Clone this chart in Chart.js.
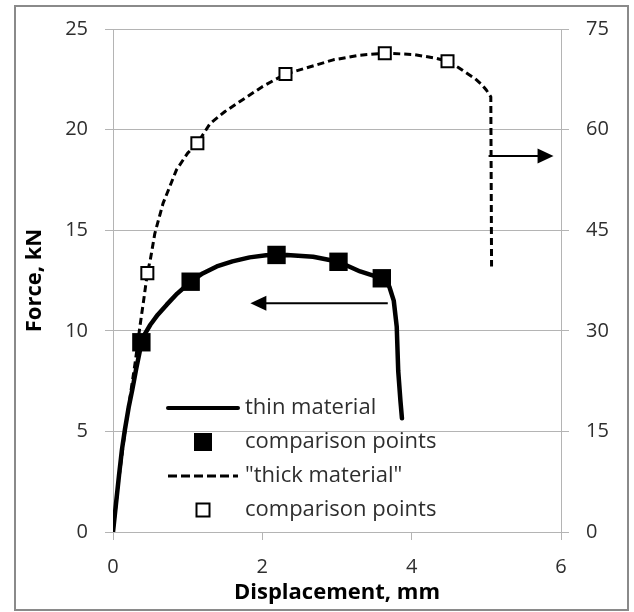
<!DOCTYPE html>
<html>
<head>
<meta charset="utf-8">
<script src="https://cdn.jsdelivr.net/npm/chart.js@4.4.1/dist/chart.umd.min.js"></script>
<style>
  html, body { margin: 0; padding: 0; background: #ffffff; }
  canvas { display: block; }
</style>
</head>
<body>
<canvas id="c" width="634" height="612"></canvas>
<script>
// ---- Data ----
// Thin material curve (left axis, kN)
const thinX = [0, 0.04, 0.08, 0.12, 0.16, 0.21, 0.26, 0.31, 0.36, 0.42, 0.5, 0.6, 0.72, 0.86, 1.04, 1.2, 1.39, 1.6, 1.83, 2.05, 2.33, 2.68, 3.02, 3.31, 3.6, 3.7, 3.76, 3.8, 3.82, 3.85, 3.87];
const thinY = [0, 1.4, 2.8, 4.1, 5.1, 6.2, 7.1, 8.1, 9.0, 9.8, 10.3, 10.8, 11.3, 11.85, 12.44, 12.85, 13.2, 13.45, 13.65, 13.75, 13.77, 13.68, 13.43, 12.95, 12.61, 12.2, 11.5, 10.2, 8.0, 6.5, 5.65];
// Thin comparison points (left axis)
const thinPtsX = [0.38, 1.04, 2.19, 3.02, 3.60];
const thinPtsY = [9.43, 12.44, 13.77, 13.43, 12.61];
// "Thick material" curve (right axis)
const thickX = [0, 0.08, 0.16, 0.24, 0.3, 0.36, 0.41, 0.46, 0.5, 0.56, 0.67, 0.85, 1.0, 1.13, 1.3, 1.5, 1.7, 2.0, 2.31, 2.5, 2.95, 3.31, 3.64, 4.02, 4.3, 4.48, 4.62, 4.74, 4.85, 4.94, 5.0, 5.06, 5.07];
const thickY = [0, 8, 15, 21, 25.5, 30.6, 34.5, 38.6, 40.6, 44.5, 49.0, 54.0, 56.5, 57.96, 60.9, 62.7, 64.2, 66.4, 68.3, 68.9, 70.4, 71.1, 71.4, 71.2, 70.7, 70.2, 69.3, 68.4, 67.6, 66.7, 65.9, 64.9, 39.6];
// Thick comparison points (right axis)
const thickPtsX = [0.46, 1.13, 2.31, 3.64, 4.48];
const thickPtsY = [38.6, 57.96, 68.3, 71.4, 70.2];
// Arrows (data coordinates): [x from, x to, y]
const arrowLeft  = [3.68, 1.84, 11.37];   // left axis
const arrowRight = [5.03, 5.90, 56.06];   // right axis
// Labels
const seriesNames = ['thin material', 'comparison points', '"thick material"', 'comparison points'];
const xTitle = 'Displacement, mm';
const yTitle = 'Force, kN';

const pts = (xs, ys) => xs.map((x, i) => ({ x: x, y: ys[i] }));

const FONT = '"Open Sans"';
const TICK_COLOR = '#2e2e2e';
const GRID = '#b4b4b4';

const arrowPlugin = {
  id: 'arrows',
  afterDatasetsDraw(chart) {
    const ctx = chart.ctx;
    const sx = chart.scales.x;
    const draw = (a, ys) => {
      const x1 = sx.getPixelForValue(a[0]);
      const x2 = sx.getPixelForValue(a[1]);
      const y = ys.getPixelForValue(a[2]);
      const dir = Math.sign(x2 - x1);
      const head = 16, hw = 7.5;
      ctx.save();
      ctx.strokeStyle = '#000';
      ctx.fillStyle = '#000';
      ctx.lineWidth = 2;
      ctx.beginPath();
      ctx.moveTo(x1, y);
      ctx.lineTo(x2 - dir * head * 0.8, y);
      ctx.stroke();
      ctx.beginPath();
      ctx.moveTo(x2, y);
      ctx.lineTo(x2 - dir * head, y - hw);
      ctx.lineTo(x2 - dir * head, y + hw);
      ctx.closePath();
      ctx.fill();
      ctx.restore();
    };
    draw(arrowLeft, chart.scales.y);
    draw(arrowRight, chart.scales.y2);
  }
};

const legendPlugin = {
  id: 'inlegend',
  afterDraw(chart) {
    const ctx = chart.ctx;
    const ca = chart.chartArea;
    const lx1 = ca.left + 55, lx2 = ca.left + 125, tx = ca.left + 132, mx = ca.left + 90;
    const rows = [ca.top + 379, ca.top + 413, ca.top + 447, ca.top + 481];
    ctx.save();
    // row 1: solid line
    ctx.strokeStyle = '#000';
    ctx.lineWidth = 4;
    ctx.lineCap = 'round';
    ctx.beginPath(); ctx.moveTo(lx1, rows[0]); ctx.lineTo(lx2, rows[0]); ctx.stroke();
    // row 2: filled square
    ctx.fillStyle = '#000';
    ctx.fillRect(mx - 9, rows[1] - 9, 18, 18);
    // row 3: dashed
    ctx.lineCap = 'butt';
    ctx.lineWidth = 3;
    ctx.setLineDash([9, 4]);
    ctx.beginPath(); ctx.moveTo(lx1, rows[2]); ctx.lineTo(lx2, rows[2]); ctx.stroke();
    ctx.setLineDash([]);
    // row 4: open square
    ctx.lineWidth = 2;
    ctx.fillStyle = '#fff';
    ctx.fillRect(mx - 6.5, rows[3] - 6.5, 13, 13);
    ctx.strokeRect(mx - 6.5, rows[3] - 6.5, 13, 13);
    // texts
    ctx.fillStyle = TICK_COLOR;
    ctx.font = '22px ' + FONT;
    ctx.textBaseline = 'middle';
    ctx.textAlign = 'left';
    seriesNames.forEach((t, i) => ctx.fillText(t, tx, rows[i]));
    ctx.restore();
  }
};

const framePlugin = {
  id: 'frame',
  afterDraw(chart) {
    const ctx = chart.ctx;
    ctx.save();
    ctx.strokeStyle = '#8a8a8a';
    ctx.lineWidth = 2;
    ctx.strokeRect(15, 6, 613, 604);
    ctx.restore();
  }
};

new Chart(document.getElementById('c'), {
  type: 'scatter',
  data: {
    datasets: [
      {
        label: seriesNames[1], data: pts(thinPtsX, thinPtsY), yAxisID: 'y',
        pointStyle: 'rect', pointRadius: 13, pointBackgroundColor: '#000', pointBorderColor: '#000',
        pointBorderWidth: 0, showLine: false, order: 0
      },
      {
        label: seriesNames[3], data: pts(thickPtsX, thickPtsY), yAxisID: 'y2',
        pointStyle: 'rect', pointRadius: 8.5, pointBackgroundColor: '#fff', pointBorderColor: '#000',
        pointBorderWidth: 2, showLine: false, order: 1
      },
      {
        label: seriesNames[0], data: pts(thinX, thinY), yAxisID: 'y',
        showLine: true, borderColor: '#000', borderWidth: 4.5, pointRadius: 0, tension: 0,
        borderJoinStyle: 'round', borderCapStyle: 'round', fill: false, order: 2
      },
      {
        label: seriesNames[2], data: pts(thickX, thickY), yAxisID: 'y2',
        showLine: true, borderColor: '#000', borderWidth: 3, borderDash: [7, 4], pointRadius: 0, tension: 0,
        borderJoinStyle: 'round', fill: false, order: 3
      }
    ]
  },
  options: {
    responsive: false,
    animation: false,
    devicePixelRatio: 1,
    layout: { padding: { top: 29, left: 0, right: 0, bottom: 0 } },
    plugins: { legend: { display: false }, tooltip: { enabled: false } },
    scales: {
      x: {
        type: 'linear', position: 'bottom', min: 0, max: 6,
        ticks: { stepSize: 2, color: TICK_COLOR, font: { family: FONT, size: 20 }, padding: 15, maxRotation: 0 },
        grid: { drawOnChartArea: false, drawTicks: true, tickLength: 8, color: GRID },
        border: { color: GRID, width: 1 },
        title: { display: true, text: xTitle, color: '#000', font: { family: FONT, size: 22, weight: 'bold' }, padding: { top: 0, bottom: 6 } },
        afterFit(s) { s.height = 80; s.paddingLeft = 0; s.paddingRight = 0; }
      },
      y: {
        type: 'linear', position: 'left', min: 0, max: 25,
        ticks: { stepSize: 5, color: TICK_COLOR, font: { family: FONT, size: 20 }, padding: 17 },
        grid: { color: GRID, tickLength: 8 },
        border: { color: GRID, width: 1 },
        title: { display: true, text: yTitle, color: '#000', font: { family: FONT, size: 22, weight: 'bold' }, padding: { top: 22, bottom: 0 } },
        afterFit(s) { s.width = 113; s.paddingTop = 0; s.paddingBottom = 0; }
      },
      y2: {
        type: 'linear', position: 'right', min: 0, max: 75,
        ticks: { stepSize: 15, color: TICK_COLOR, font: { family: FONT, size: 20 }, padding: 17 },
        grid: { drawOnChartArea: false, tickLength: 8, color: GRID },
        border: { color: GRID, width: 1 },
        afterFit(s) { s.width = 73; s.paddingTop = 0; s.paddingBottom = 0; }
      }
    }
  },
  plugins: [arrowPlugin, legendPlugin, framePlugin]
});
</script>
</body>
</html>
